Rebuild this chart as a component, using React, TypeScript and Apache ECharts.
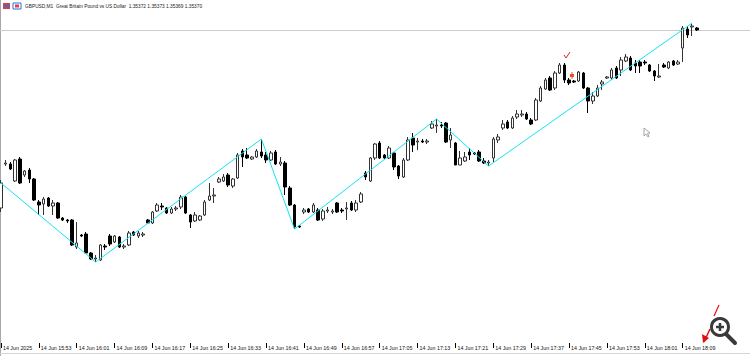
import React, { useEffect, useRef } from "react";
import * as echarts from "echarts";

// ---- data (GBPUSD, M1) ----
const tickLabels = [
  "14 Jun 2025", "14 Jun 15:53", "14 Jun 16:01", "14 Jun 16:09", "14 Jun 16:17",
  "14 Jun 16:25", "14 Jun 16:33", "14 Jun 16:41", "14 Jun 16:49", "14 Jun 16:57",
  "14 Jun 17:05", "14 Jun 17:13", "14 Jun 17:21", "14 Jun 17:29", "14 Jun 17:37",
  "14 Jun 17:45", "14 Jun 17:53", "14 Jun 18:01", "14 Jun 18:09",
];

const opens = [
  1.35192, 1.35236, 1.35236, 1.35219, 1.35241, 1.35225, 1.35230, 1.35221, 1.35198, 1.35196,
  1.35202, 1.35194, 1.35197, 1.35182, 1.35180, 1.35180, 1.35153, 1.35165, 1.35166, 1.35147,
  1.35141, 1.35140, 1.35154, 1.35164, 1.35158, 1.35163, 1.35153, 1.35155, 1.35168, 1.35164,
  1.35165, 1.35180, 1.35177, 1.35189, 1.35194, 1.35192, 1.35187, 1.35191, 1.35193, 1.35203,
  1.35185, 1.35179, 1.35180, 1.35185, 1.35200, 1.35204, 1.35218, 1.35219, 1.35225, 1.35214,
  1.35222, 1.35249, 1.35245, 1.35241, 1.35243, 1.35248, 1.35245, 1.35240, 1.35248, 1.35236,
  1.35237, 1.35212, 1.35195, 1.35174, 1.35188, 1.35191, 1.35188, 1.35190, 1.35181, 1.35189,
  1.35188, 1.35197, 1.35190, 1.35191, 1.35197, 1.35190, 1.35198, 1.35227, 1.35219, 1.35242,
  1.35257, 1.35245, 1.35242, 1.35247, 1.35234, 1.35223, 1.35240, 1.35262, 1.35258, 1.35259,
  1.35258, 1.35272, 1.35274, 1.35275, 1.35277, 1.35260, 1.35257, 1.35235, 1.35239, 1.35248,
  1.35247, 1.35248, 1.35239, 1.35237, 1.35242, 1.35260, 1.35272, 1.35278, 1.35272, 1.35283,
  1.35285, 1.35286, 1.35280, 1.35280, 1.35299, 1.35311, 1.35322, 1.35312, 1.35327, 1.35335,
  1.35320, 1.35319, 1.35319, 1.35327, 1.35312, 1.35299, 1.35304, 1.35316, 1.35322, 1.35322,
  1.35332, 1.35330, 1.35339, 1.35342, 1.35337, 1.35338, 1.35338, 1.35335, 1.35329, 1.35323,
  1.35335, 1.35332, 1.35339, 1.35336, 1.35352, 1.35371, 1.35373, 1.35372,
];

const closes = [
  1.35217, 1.35237, 1.35231, 1.35240, 1.35217, 1.35229, 1.35221, 1.35200, 1.35195, 1.35201,
  1.35194, 1.35197, 1.35182, 1.35180, 1.35179, 1.35155, 1.35157, 1.35164, 1.35147, 1.35141,
  1.35142, 1.35155, 1.35153, 1.35156, 1.35164, 1.35153, 1.35154, 1.35167, 1.35165, 1.35167,
  1.35166, 1.35177, 1.35188, 1.35195, 1.35193, 1.35187, 1.35191, 1.35192, 1.35203, 1.35187,
  1.35178, 1.35185, 1.35184, 1.35198, 1.35204, 1.35205, 1.35221, 1.35223, 1.35215, 1.35221,
  1.35245, 1.35243, 1.35242, 1.35243, 1.35249, 1.35244, 1.35240, 1.35247, 1.35236, 1.35238,
  1.35213, 1.35195, 1.35173, 1.35173, 1.35190, 1.35188, 1.35195, 1.35180, 1.35189, 1.35190,
  1.35189, 1.35188, 1.35189, 1.35192, 1.35190, 1.35197, 1.35206, 1.35223, 1.35242, 1.35256,
  1.35242, 1.35242, 1.35252, 1.35233, 1.35224, 1.35240, 1.35260, 1.35255, 1.35259, 1.35258,
  1.35259, 1.35276, 1.35275, 1.35274, 1.35258, 1.35265, 1.35235, 1.35242, 1.35243, 1.35245,
  1.35246, 1.35239, 1.35237, 1.35238, 1.35261, 1.35263, 1.35276, 1.35272, 1.35282, 1.35286,
  1.35286, 1.35281, 1.35276, 1.35300, 1.35312, 1.35320, 1.35310, 1.35327, 1.35335, 1.35320,
  1.35317, 1.35318, 1.35328, 1.35312, 1.35299, 1.35304, 1.35312, 1.35318, 1.35323, 1.35330,
  1.35322, 1.35340, 1.35343, 1.35330, 1.35334, 1.35334, 1.35337, 1.35329, 1.35324, 1.35324,
  1.35333, 1.35338, 1.35335, 1.35338, 1.35372, 1.35365, 1.35374, 1.35370,
];

const lows = [
  1.35188, 1.35234, 1.35230, 1.35218, 1.35216, 1.35223, 1.35217, 1.35199, 1.35185, 1.35185,
  1.35193, 1.35185, 1.35181, 1.35179, 1.35177, 1.35154, 1.35151, 1.35163, 1.35146, 1.35140,
  1.35138, 1.35139, 1.35150, 1.35154, 1.35157, 1.35152, 1.35151, 1.35154, 1.35164, 1.35162,
  1.35163, 1.35176, 1.35176, 1.35188, 1.35190, 1.35186, 1.35186, 1.35189, 1.35191, 1.35186,
  1.35172, 1.35178, 1.35179, 1.35184, 1.35199, 1.35197, 1.35217, 1.35218, 1.35213, 1.35212,
  1.35221, 1.35233, 1.35241, 1.35240, 1.35242, 1.35242, 1.35237, 1.35239, 1.35235, 1.35234,
  1.35205, 1.35194, 1.35171, 1.35172, 1.35186, 1.35187, 1.35187, 1.35179, 1.35179, 1.35187,
  1.35186, 1.35187, 1.35187, 1.35180, 1.35189, 1.35188, 1.35197, 1.35220, 1.35218, 1.35240,
  1.35241, 1.35241, 1.35241, 1.35230, 1.35221, 1.35222, 1.35239, 1.35248, 1.35250, 1.35257,
  1.35256, 1.35271, 1.35267, 1.35272, 1.35257, 1.35252, 1.35235, 1.35235, 1.35238, 1.35240,
  1.35245, 1.35238, 1.35236, 1.35234, 1.35238, 1.35257, 1.35270, 1.35271, 1.35271, 1.35281,
  1.35283, 1.35280, 1.35275, 1.35279, 1.35298, 1.35310, 1.35309, 1.35310, 1.35326, 1.35317,
  1.35315, 1.35317, 1.35318, 1.35311, 1.35287, 1.35296, 1.35303, 1.35310, 1.35321, 1.35320,
  1.35321, 1.35324, 1.35338, 1.35329, 1.35327, 1.35327, 1.35335, 1.35328, 1.35319, 1.35322,
  1.35332, 1.35331, 1.35334, 1.35335, 1.35338, 1.35362, 1.35364, 1.35369,
];

const highs = [
  1.35220, 1.35240, 1.35238, 1.35241, 1.35243, 1.35230, 1.35232, 1.35222, 1.35200, 1.35203,
  1.35203, 1.35200, 1.35198, 1.35183, 1.35181, 1.35181, 1.35178, 1.35166, 1.35168, 1.35148,
  1.35145, 1.35156, 1.35156, 1.35166, 1.35165, 1.35164, 1.35156, 1.35169, 1.35169, 1.35169,
  1.35168, 1.35181, 1.35189, 1.35197, 1.35197, 1.35193, 1.35193, 1.35194, 1.35205, 1.35204,
  1.35186, 1.35188, 1.35185, 1.35200, 1.35217, 1.35212, 1.35223, 1.35226, 1.35227, 1.35222,
  1.35247, 1.35251, 1.35252, 1.35244, 1.35251, 1.35261, 1.35248, 1.35249, 1.35250, 1.35243,
  1.35239, 1.35214, 1.35196, 1.35175, 1.35192, 1.35192, 1.35197, 1.35192, 1.35191, 1.35193,
  1.35191, 1.35198, 1.35192, 1.35198, 1.35199, 1.35200, 1.35208, 1.35229, 1.35243, 1.35257,
  1.35259, 1.35246, 1.35254, 1.35248, 1.35235, 1.35242, 1.35263, 1.35267, 1.35262, 1.35261,
  1.35261, 1.35279, 1.35281, 1.35278, 1.35278, 1.35272, 1.35258, 1.35249, 1.35248, 1.35252,
  1.35248, 1.35250, 1.35242, 1.35240, 1.35263, 1.35266, 1.35280, 1.35280, 1.35284, 1.35290,
  1.35290, 1.35288, 1.35282, 1.35302, 1.35314, 1.35322, 1.35324, 1.35329, 1.35337, 1.35337,
  1.35322, 1.35320, 1.35329, 1.35328, 1.35313, 1.35308, 1.35315, 1.35320, 1.35324, 1.35332,
  1.35334, 1.35343, 1.35346, 1.35344, 1.35340, 1.35340, 1.35340, 1.35336, 1.35330, 1.35336,
  1.35337, 1.35339, 1.35340, 1.35340, 1.35374, 1.35374, 1.35377, 1.35373,
];

// ZigZag pivots: [bar index, price]
const zigzagIdx = [0, 20, 55, 62, 92, 103, 146];
const zigzagVal = [1.35217, 1.35138, 1.35261, 1.35171, 1.35281, 1.35234, 1.35377];

const bidPrice = 1.3537;
const headerText =
  "GBPUSD,M1  Great Britain Pound vs US Dollar  1.35372 1.35373 1.35369 1.35370";

export default function App() {
  const ref = useRef<HTMLDivElement>(null);

  useEffect(() => {
    if (!ref.current) return;
    const chart = echarts.init(ref.current, undefined, { renderer: "svg" });

    const totalSlots = 159; // bars + empty right shift area
    const startMin = 15 * 60 + 45;
    const categories: string[] = [];
    for (let i = 0; i < totalSlots; i++) {
      const m = startMin + i;
      const hh = String(Math.floor(m / 60)).padStart(2, "0");
      const mm = String(m % 60).padStart(2, "0");
      categories.push(`14 Jun ${hh}:${mm}`);
    }

    const candles = opens.map((o, i) => [o, closes[i], lows[i], highs[i]]);
    const zz: (number | null)[] = opens.map(() => null);
    zigzagIdx.forEach((idx, k) => {
      zz[idx] = zigzagVal[k];
    });

    const font = "'Liberation Sans', Arial, sans-serif";
    const showIdx = (i: number) => i % 8 === 0 && i < opens.length;

    const baseGraphic: any[] = [
      { type: "line", shape: { x1: 0.5, y1: 0, x2: 0.5, y2: 356 }, style: { stroke: "#a8a8a8", lineWidth: 1 } },
      { type: "line", shape: { x1: 0, y1: 353.5, x2: 750, y2: 353.5 }, style: { stroke: "#d6d6d6", lineWidth: 1 } },
      // header icons
      { type: "rect", shape: { x: 3, y: 3, width: 7, height: 6 }, style: { fill: "#3b6fd0" } },
      { type: "rect", shape: { x: 3, y: 3, width: 7, height: 2 }, style: { fill: "#e03a3a" } },
      { type: "rect", shape: { x: 3, y: 7, width: 7, height: 2 }, style: { fill: "#e03a3a" } },
      { type: "rect", shape: { x: 13, y: 3, width: 8, height: 6 }, style: { fill: "#ffffff", stroke: "#2f6fd6", lineWidth: 1 } },
      { type: "rect", shape: { x: 15, y: 4.5, width: 4, height: 3 }, style: { fill: "#e04040" } },
      {
        type: "text",
        x: 25,
        y: 6,
        style: { text: headerText, fontSize: 4.8, fontFamily: font, fill: "#222", verticalAlign: "middle" },
      },
      // small red chart objects
      { type: "polyline", shape: { points: [[564, 55], [566, 58], [570, 52]] }, style: { stroke: "#e02020", lineWidth: 1, fill: null } },
      { type: "rect", shape: { x: 570, y: 74, width: 4, height: 3 }, style: { fill: "#e8502a" } },
      { type: "line", shape: { x1: 572, y1: 72, x2: 572, y2: 79 }, style: { stroke: "#e8502a", lineWidth: 1 } },
      // cursor
      {
        type: "polygon",
        shape: { points: [[644, 128], [644, 136], [646, 134], [648, 137], [649, 136.5], [647.5, 133.5], [650, 133]] },
        style: { fill: "#ffffff", stroke: "#909090", lineWidth: 0.8 },
      },
      // red arrows near zoom icon
      { type: "line", shape: { x1: 719, y1: 305, x2: 714, y2: 316 }, style: { stroke: "#e01010", lineWidth: 1.2 } },
      { type: "line", shape: { x1: 710, y1: 329, x2: 704, y2: 342 }, style: { stroke: "#e01010", lineWidth: 1.5 } },
      { type: "polygon", shape: { points: [[703, 343], [702, 334], [709, 338]] }, style: { fill: "#e01010" } },
      // magnifier
      { type: "line", shape: { x1: 726, y1: 334, x2: 735, y2: 343 }, style: { stroke: "#3a3a3a", lineWidth: 4, lineCap: "round" } },
      { type: "circle", shape: { cx: 720, cy: 327, r: 8.5 }, style: { fill: "#ffffff", stroke: "#3a3a3a", lineWidth: 3 } },
      { type: "line", shape: { x1: 716, y1: 327, x2: 724, y2: 327 }, style: { stroke: "#3a3a3a", lineWidth: 2.5 } },
      { type: "line", shape: { x1: 720, y1: 323, x2: 720, y2: 331 }, style: { stroke: "#3a3a3a", lineWidth: 2.5 } },
    ];

    chart.setOption({
      animation: false,
      backgroundColor: "#ffffff",
      grid: { left: 1, right: 1, top: 0, bottom: 13 },
      xAxis: {
        type: "category",
        data: categories,
        boundaryGap: false,
        axisLine: { show: false },
        axisTick: {
          show: true,
          interval: showIdx,
          length: 5,
          lineStyle: { color: "#000", width: 1 },
        },
        axisLabel: {
          interval: showIdx,
          hideOverlap: false,
          formatter: (_v: string, i: number) => tickLabels[i / 8] ?? "",
          align: "left",
          verticalAlign: "middle",
          margin: 5,
          padding: [0, 0, 0, 2],
          fontSize: 5.3,
          fontFamily: font,
          color: "#111",
        },
        splitLine: { show: false },
      },
      yAxis: {
        type: "value",
        min: 1.35057,
        max: 1.354,
        show: false,
        splitLine: { show: false },
      },
      series: [
        {
          type: "candlestick",
          data: candles,
          barWidth: 3,
          clip: false,
          itemStyle: {
            color: "#ffffff",
            color0: "#000000",
            borderColor: "#333333",
            borderColor0: "#000000",
            borderWidth: 1,
          },
          z: 2,
        },
        {
          type: "line",
          data: zz,
          connectNulls: true,
          showSymbol: false,
          symbol: "none",
          lineStyle: { color: "#12E4F2", width: 1 },
          z: 3,
        },
      ],
      graphic: baseGraphic,
    });

    // bid line across the whole window at the last price
    const bidY = Math.round(chart.convertToPixel({ yAxisIndex: 0 }, bidPrice) as number) + 0.5;
    chart.setOption({
      graphic: [
        ...baseGraphic,
        {
          type: "line",
          z: 0,
          shape: { x1: 0, y1: bidY, x2: 750, y2: bidY },
          style: { stroke: "#cccccc", lineWidth: 1 },
        },
      ],
    });

    return () => chart.dispose();
  }, []);

  return (
    <div
      ref={ref}
      style={{ position: "fixed", left: 0, top: 0, width: 750, height: 356, background: "#fff" }}
    />
  );
}
